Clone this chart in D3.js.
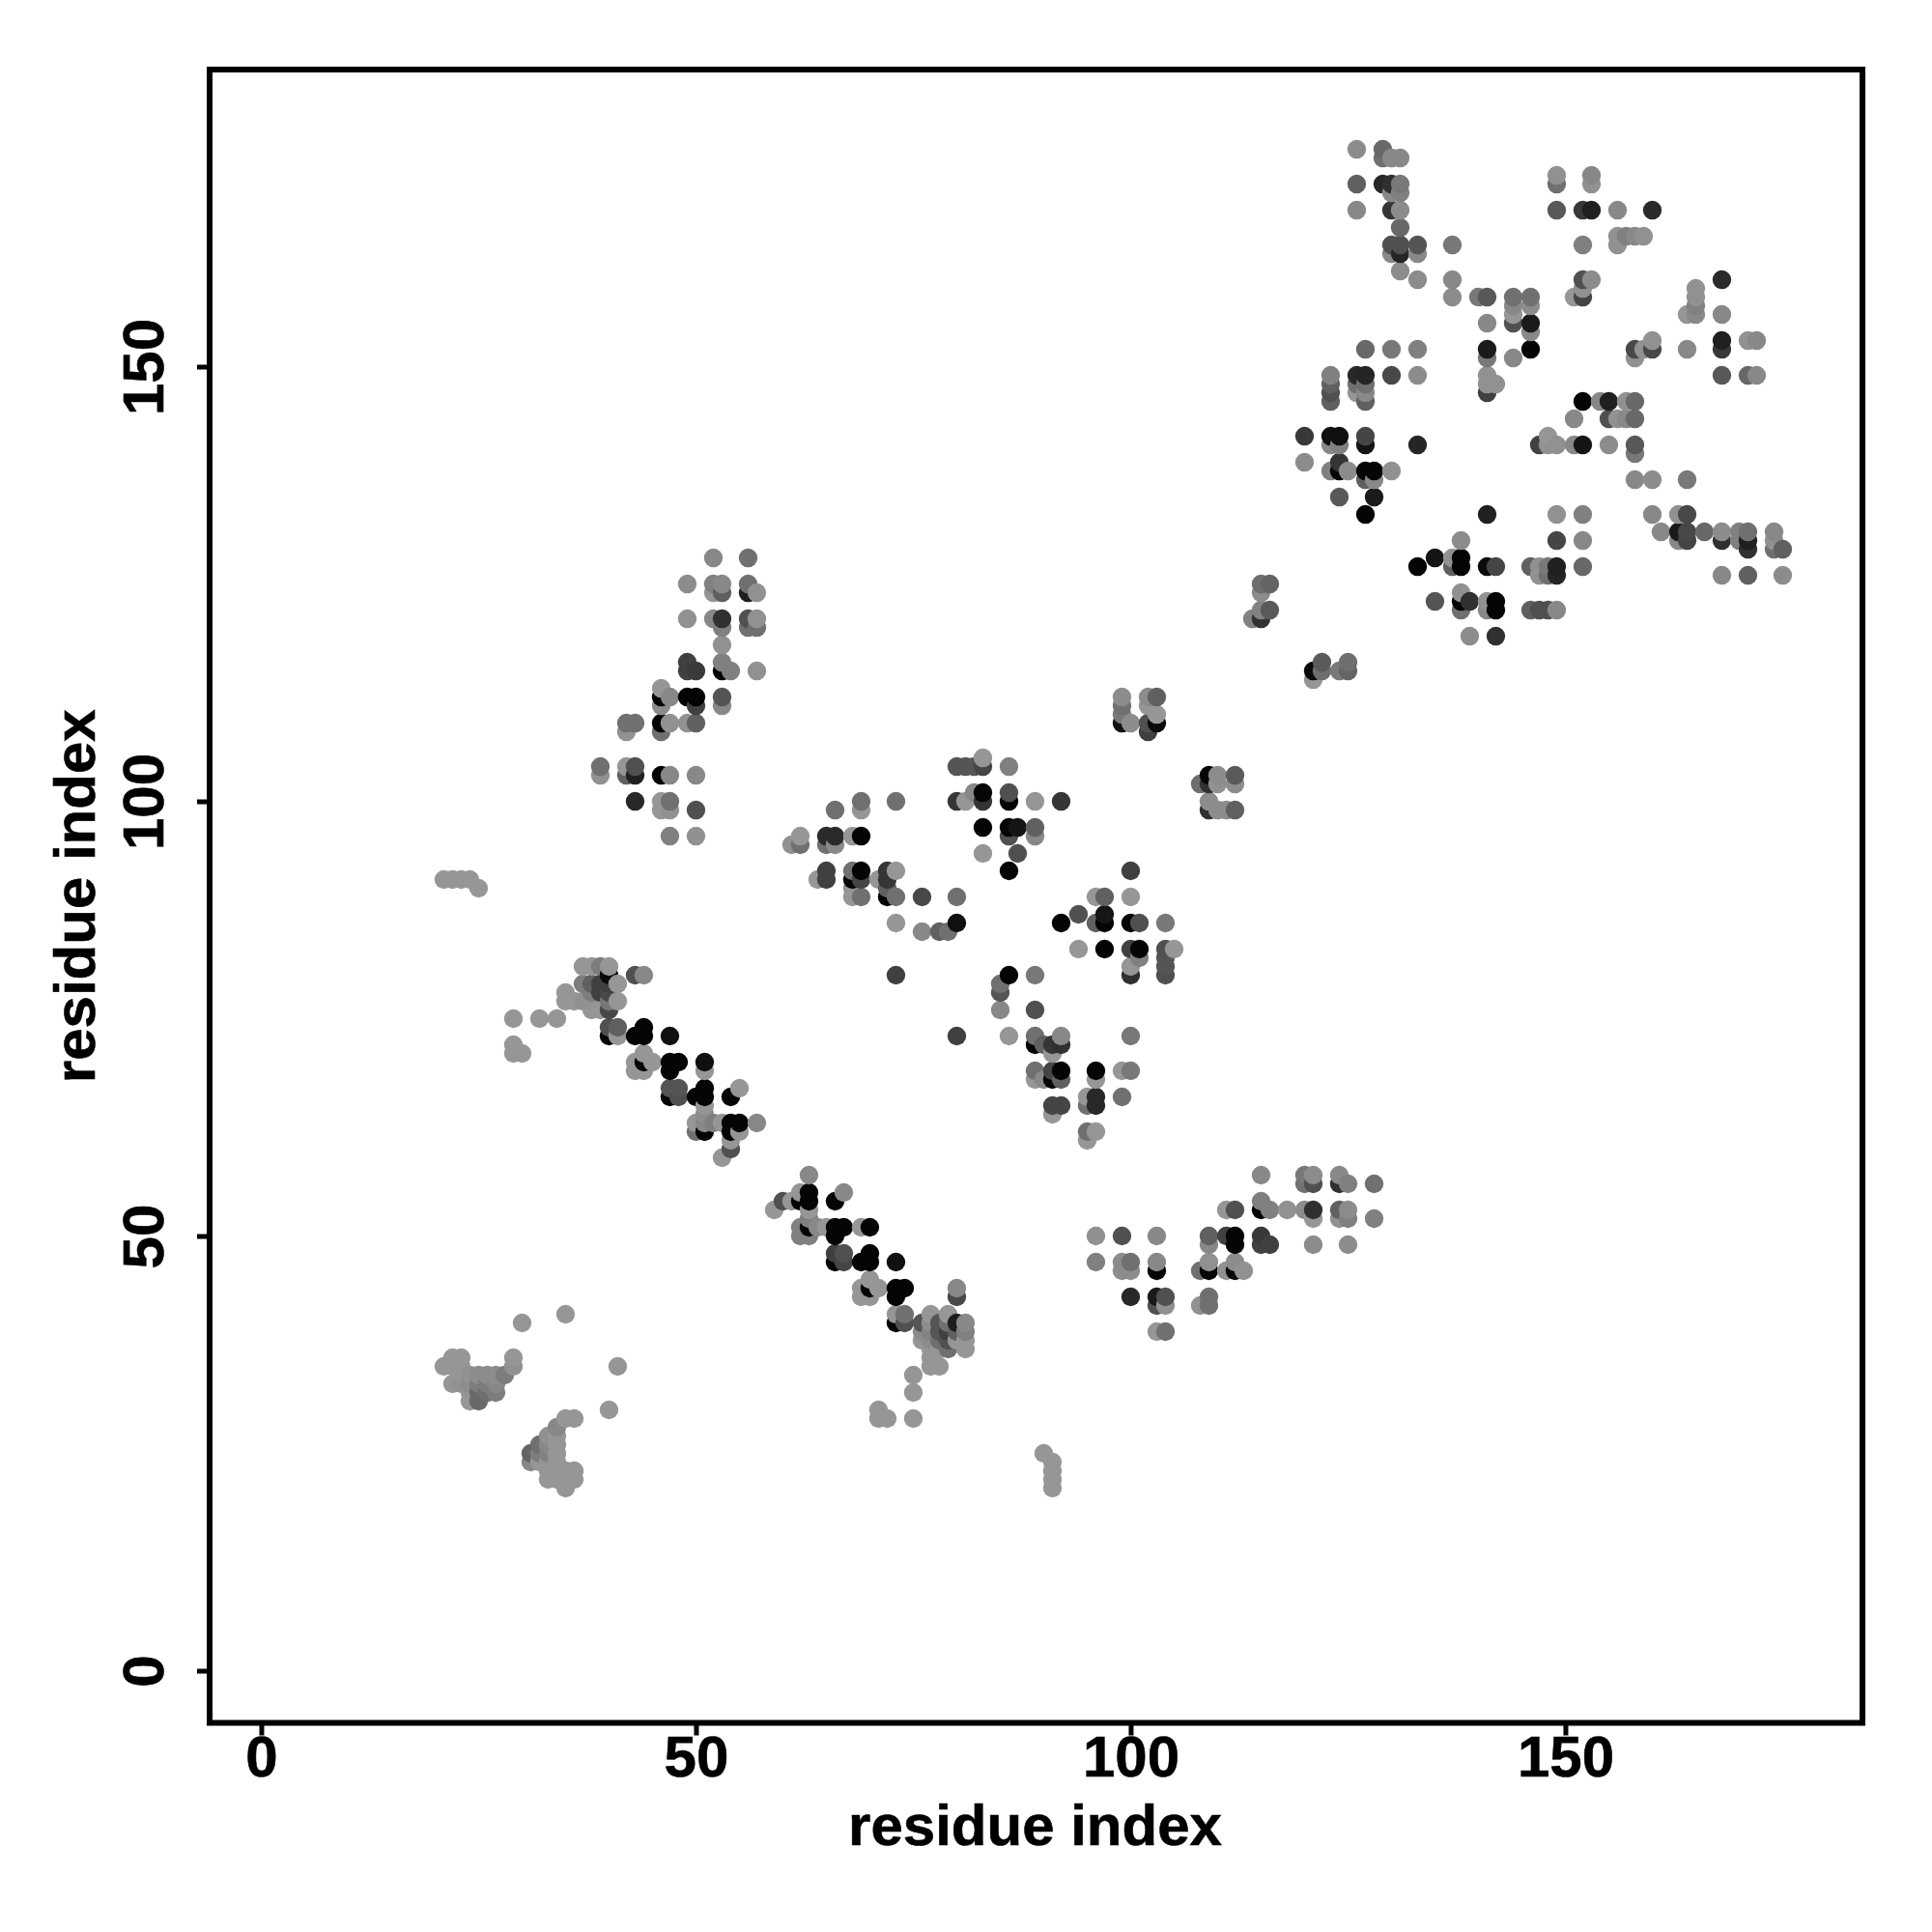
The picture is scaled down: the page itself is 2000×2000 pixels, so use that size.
<!DOCTYPE html>
<html><head><meta charset="utf-8">
<script src="https://cdn.jsdelivr.net/npm/d3@7/dist/d3.min.js"></script>
<style>html,body{margin:0;padding:0;background:#fff}svg{display:block}text{font-family:"Liberation Sans",Arial,sans-serif;font-weight:bold;fill:#000}</style>
</head><body>
<svg id="c" width="2000" height="2000"></svg>
<script>
// Contact pairs: [residue i, residue j, grey level]
const lowerLeftA=[[30,40,150],[35,41,150],[41,35,150],[40,30,150],[21,35,150],[22,36,150],[23,36,150],[29,36,150],[29,35,145],[22,35,150],[23,35,150],[22,33,150],[23,34,150],[24,34,145],[25,34,140],[26,34,140],[27,34,140],[28,34,125],[23,33,145],[24,33,140],[25,33,125],[26,33,125],[27,33,135],[24,32,150],[25,32,105],[26,32,110],[27,32,125],[24,31,150],[25,31,105]];
const lowerLeftB=[[35,29,150],[36,29,150],[34,28,135],[33,27,145],[34,27,150],[32,26,112],[33,26,135],[34,26,150],[31,25,100],[32,25,125],[33,25,130],[34,25,150],[31,24,135],[32,24,150],[33,24,150],[34,24,150],[33,23,150],[34,23,150],[35,23,150],[36,23,150],[33,22,150],[34,22,150],[35,22,150],[36,22,150],[35,21,150],[90,25,150],[91,24,150],[91,23,150],[91,22,150],[91,21,150],[21,91,150],[22,91,150],[23,91,150],[24,91,150],[25,90,150]];
const bandOneA=[[29,75,150],[32,75,150],[34,75,150],[29,72,150],[29,71,150],[30,71,150],[37,81,150],[38,81,150],[39,81,125],[40,81,150],[40,80,10],[43,80,80],[44,80,136],[37,79,125],[38,79,96],[39,79,64],[40,79,64],[41,79,150],[35,78,150],[38,78,125],[39,78,64],[40,78,72],[35,77,150],[36,77,150],[37,77,145],[38,77,145],[40,77,120],[41,77,150],[38,76,150],[39,76,150],[40,76,72],[40,74,80],[41,74,96],[40,73,5],[41,73,150],[44,74,5],[43,73,5],[44,73,5],[47,73,16],[44,71,150],[45,70,150],[43,70,150],[44,70,5],[43,69,150],[44,69,150]];
const bandOneB=[[47,70,5],[48,70,5],[47,69,5],[51,70,16],[51,69,150],[47,67,85],[48,67,85],[47,66,5],[48,66,80],[50,66,5],[51,67,5],[51,66,5],[51,65,150],[51,64,140],[54,66,5],[55,67,150],[50,63,150],[50,62,112],[51,63,136],[51,62,5],[52,63,128],[53,63,150],[54,63,5],[55,63,5],[54,62,5],[55,62,150],[57,63,136],[54,61,150],[54,60,80],[53,59,150]];
const bandTwoA=[[63,57,136],[62,55,150],[63,55,5],[60,54,80],[61,54,150],[62,54,5],[63,54,5],[59,53,150],[66,54,5],[67,55,136],[63,53,150],[63,52,128],[62,51,128],[62,50,128],[63,51,5],[63,50,128],[64,51,136],[65,51,150],[66,51,5],[67,51,5],[66,50,5],[69,51,150],[70,51,5],[66,48,64],[67,48,80],[66,47,5],[67,47,69],[69,47,5],[70,48,5],[70,47,5],[73,47,16],[70,45,150],[71,44,150],[69,44,150],[70,44,5],[69,43,150],[70,43,150],[73,44,5],[74,44,5],[73,43,5],[80,44,136],[80,43,72]];
const bandTwoB=[[73,41,150],[74,41,112],[73,40,5],[74,40,80],[76,40,85],[77,41,150],[79,41,150],[80,40,30],[81,40,136],[77,40,140],[78,40,85],[79,40,112],[76,39,140],[77,39,130],[78,39,85],[79,39,64],[80,39,96],[81,39,128],[76,38,150],[77,38,140],[78,38,112],[79,38,80],[80,38,150],[81,38,150],[79,37,112],[81,37,150],[77,37,150],[78,37,150],[77,36,150],[77,35,150],[78,35,150],[75,34,150],[75,32,150],[75,29,150],[71,30,150],[72,29,150],[71,29,150]];
const armLeft=[[52,128,136],[56,128,112],[49,125,140],[52,125,128],[53,125,136],[52,124,150],[53,124,96],[56,125,112],[56,124,30],[57,124,145],[49,121,145],[52,121,136],[53,121,48],[53,120,128],[56,121,80],[57,121,145],[56,120,112],[57,120,112],[53,118,145],[49,116,64],[49,115,64],[50,115,58],[53,116,128],[53,115,5],[54,115,128],[57,115,145],[46,113,150],[47,112,136],[46,112,5],[46,111,140],[49,112,5],[50,112,5],[50,111,64],[53,112,85],[53,111,136],[42,109,112],[43,109,112],[42,108,145],[46,109,5],[47,109,145],[46,108,112],[49,109,145],[50,109,96],[39,104,112],[39,103,145],[42,104,150],[43,104,80],[42,103,96],[43,103,32],[46,103,5],[47,103,136],[50,103,136],[43,100,40],[46,100,150],[47,100,112],[46,99,150],[47,99,145],[50,99,80],[47,96,128],[50,96,145]];
const midA=[[80,104,85],[81,104,85],[82,104,85],[83,104,69],[83,105,150],[86,104,128],[80,100,53],[81,100,150],[82,101,136],[83,101,5],[83,100,53],[86,101,80],[86,100,5],[89,100,150],[92,100,53],[83,97,5],[86,97,5],[87,97,21],[89,97,96],[86,96,80],[89,96,136],[83,94,150],[87,94,80],[86,92,5],[66,99,112],[69,100,112],[69,99,150],[73,100,112],[61,95,145],[62,96,150],[62,95,112],[65,96,42],[66,96,42],[65,95,112],[66,95,136],[68,96,150],[69,96,5]];
const midB=[[64,91,150],[65,92,64],[65,91,64],[68,92,112],[69,92,5],[68,91,5],[69,91,69],[68,90,150],[68,89,150],[69,89,112],[72,92,53],[73,92,150],[71,91,150],[72,91,53],[72,90,96],[72,89,5],[73,89,112],[76,89,72],[80,89,112],[73,86,150],[76,85,136],[78,85,96],[79,85,112],[80,86,16],[92,86,5],[94,87,80],[94,83,150],[96,89,150],[97,89,96],[100,92,64],[100,89,150],[96,86,96],[97,87,21],[97,86,5],[100,86,5],[101,86,80],[104,86,120],[97,83,5],[100,83,64],[101,83,5],[101,82,128],[100,81,150],[100,80,48],[104,83,80],[105,83,150],[104,82,85],[104,81,85],[104,80,80]];
const midC=[[86,80,5],[89,80,120],[85,79,112],[85,78,85],[85,76,136],[89,76,80],[73,80,64],[80,73,64],[86,73,150],[89,73,112],[89,72,5],[90,72,96],[91,72,53],[92,73,136],[92,72,48],[91,71,150],[100,73,120],[89,69,112],[89,68,150],[90,68,136],[91,69,69],[91,68,5],[92,69,5],[92,68,96],[96,69,5],[96,68,150],[99,69,150],[100,69,120],[95,66,150],[96,66,40],[95,65,112],[96,65,40],[99,66,112],[91,65,69],[92,65,69],[91,64,150],[95,62,112],[96,62,150],[95,61,150]];
const sheetLow=[[115,57,136],[120,57,120],[121,57,140],[120,56,112],[121,56,80],[124,57,136],[125,56,128],[124,56,48],[128,56,112],[115,54,128],[116,53,128],[115,53,5],[118,53,145],[111,53,150],[112,53,80],[120,53,140],[121,53,48],[121,52,150],[124,53,96],[125,53,140],[124,52,145],[125,52,128],[128,52,128],[121,49,140],[125,49,140],[96,50,145],[99,50,80],[103,50,136],[109,50,96],[109,49,136],[111,50,64],[112,50,5],[112,49,5],[115,50,56],[116,49,64],[115,49,64],[96,47,128],[99,47,140],[100,47,112],[99,46,140],[100,46,140],[103,47,136],[103,46,5],[108,46,112],[109,47,145],[109,46,5],[111,46,145],[112,47,140],[112,46,5],[113,46,145],[100,43,40],[103,43,26],[104,43,80],[103,42,80],[104,42,145],[108,42,145],[109,43,112],[109,42,112],[103,39,150],[104,39,112]];
const diagLinks=[[115,125,110],[116,125,100],[115,124,140],[114,121,130],[115,121,50],[115,122,130],[116,122,90],[122,116,90],[125,116,110],[121,115,10],[122,115,110],[124,115,120],[125,115,100],[121,114,150],[99,112,140],[102,112,140],[103,112,96],[99,111,112],[102,111,150],[99,110,120],[103,110,150],[99,109,16],[100,109,140],[102,109,80],[103,109,10],[102,108,64],[108,102,110],[109,103,5],[110,103,140],[112,103,90],[109,102,48],[110,102,145],[112,102,140],[109,100,140],[109,99,48],[110,99,140],[111,99,140],[112,99,96]];
const upperA=[[123,149,128],[123,148,96],[123,147,80],[123,146,96],[126,149,40],[127,149,37],[126,148,112],[127,148,112],[126,147,150],[127,147,136],[127,146,96],[130,149,72],[133,149,140],[141,149,145],[141,148,145],[142,148,145],[141,147,64],[120,142,56],[123,142,16],[124,142,16],[123,141,136],[124,141,128],[127,142,69],[127,141,21],[133,141,37],[120,139,140],[123,138,128],[124,139,53],[124,138,5],[125,138,140],[127,138,5],[128,138,5],[130,138,145],[127,137,96],[128,137,136],[124,135,88],[128,135,26],[127,133,5],[141,133,32],[147,141,64],[148,142,150],[148,141,145],[149,141,145],[151,141,136],[152,141,21],[151,144,136],[152,146,5]];
const upperB=[[126,175,140],[129,175,104],[129,174,112],[130,174,136],[131,174,136],[126,171,96],[129,171,40],[130,171,48],[131,171,120],[130,170,136],[131,170,128],[126,168,136],[130,168,53],[131,168,140],[131,166,104],[130,164,80],[131,164,80],[133,164,85],[130,163,136],[131,163,37],[133,163,136],[137,164,120],[131,161,140],[133,160,140],[137,160,136],[137,158,140],[140,158,120],[141,158,88],[144,158,112],[146,158,112],[144,157,136],[144,156,150],[144,155,80],[146,157,140],[146,155,26],[146,154,136],[141,155,136],[141,152,26],[141,151,120],[144,151,136],[146,152,5],[127,152,104],[130,152,120],[133,152,128]];
const upperC=[[149,172,145],[149,171,112],[153,172,136],[153,171,145],[149,168,88],[152,168,56],[153,168,32],[156,168,136],[160,168,42],[152,164,128],[156,165,145],[156,164,145],[157,165,128],[158,165,136],[159,165,145],[152,160,80],[153,160,140],[152,159,145],[151,158,150],[152,158,69],[165,159,145],[165,158,145],[165,157,128],[164,156,150],[165,156,136],[168,160,42],[168,156,136],[168,153,32],[168,152,56],[171,153,145],[172,153,136],[164,152,136],[158,152,72],[159,152,145],[160,153,145],[160,152,72],[158,151,145],[168,149,88],[171,149,104],[172,149,136],[154,146,136],[155,146,32],[157,146,145],[158,146,104],[155,144,80],[156,144,145],[157,144,136],[158,144,104],[155,141,140],[158,141,88],[158,140,120],[158,137,136],[160,137,140],[164,137,120]];
const upperD=[[149,133,145],[152,133,128],[138,130,140],[149,130,69],[152,130,136],[160,133,136],[163,133,145],[164,133,72],[161,131,136],[163,131,26],[164,131,72],[163,130,136],[164,130,69],[166,131,104],[168,131,140],[168,130,48],[170,131,128],[171,131,112],[170,130,128],[171,130,32],[171,129,48],[174,131,136],[174,130,144],[174,129,112],[175,129,96],[168,126,136],[171,126,96],[175,126,140],[133,127,5],[135,128,21],[137,128,145],[138,128,5],[137,127,96],[138,127,5],[141,127,10],[142,127,69],[146,127,96],[147,127,145],[148,127,120],[149,127,32],[147,126,145],[148,126,112],[149,126,37],[152,127,104],[135,123,85],[138,124,145],[138,123,5],[139,123,48],[138,122,112],[141,123,145],[142,123,5],[141,122,136],[142,122,5],[146,122,96],[147,122,80],[148,122,80],[149,122,136],[139,119,140],[142,119,48]];
const tickValues=[0,50,100,150];
const axisTitle="residue index";

const contacts=[].concat(lowerLeftA,lowerLeftB,bandOneA,bandOneB,bandTwoA,bandTwoB,armLeft,midA,midB,midC,sheetLow,diagLinks,upperA,upperB,upperC,upperD)
  .map(d=>({i:d[0],j:d[1],g:d[2]}))
  .sort((a,b)=>d3.ascending(a.i,b.i)||d3.ascending(a.j,b.j));

const L=217,R=1928,T=72,B=1783.5;
const x=d3.scaleLinear().domain([-5.94,184.17]).range([L,R]);
const y=d3.scaleLinear().domain([-6,184.17]).range([B,T]);
const grey=d3.scaleLinear().domain([0,255]).range(["#000","#fff"]);
const svg=d3.select("#c");

svg.append("g").selectAll("circle").data(contacts).join("circle")
  .attr("cx",d=>x(d.i)).attr("cy",d=>y(d.j)).attr("r",9.7).attr("fill",d=>grey(d.g));

const ax=svg.append("g").attr("transform",`translate(0,${B})`).call(d3.axisBottom(x).tickValues(tickValues).tickSize(13).tickPadding(10));
const ay=svg.append("g").attr("transform",`translate(${L},0)`).call(d3.axisLeft(y).tickValues(tickValues).tickSize(13).tickPadding(10));
[ax,ay].forEach(g=>{
  g.select(".domain").remove();
  g.selectAll("line").attr("stroke","#000").attr("stroke-width",5);
  g.selectAll("text").style("font-family",'"Liberation Sans",Arial,sans-serif').style("font-weight","bold").style("font-size","60px").style("stroke","#000").style("stroke-width","0.6px").attr("fill","#000");
});
ax.selectAll("text").attr("y",null).attr("dy",null).attr("transform","translate(0,55)").attr("text-anchor","middle");
ay.selectAll("text").attr("x",null).attr("dy",null).attr("text-anchor","middle").attr("transform","translate(-48,0) rotate(-90)");

svg.append("rect").attr("x",L).attr("y",T).attr("width",R-L).attr("height",B-T).attr("fill","none").attr("stroke","#000").attr("stroke-width",6);
svg.append("text").attr("x",(L+R)/2-1).attr("y",1910).attr("text-anchor","middle").style("font-size","60px").style("stroke","#000").style("stroke-width","0.6px").text(axisTitle);
svg.append("text").attr("transform",`translate(98,${(T+B)/2}) rotate(-90)`).attr("text-anchor","middle").style("font-size","60px").style("stroke","#000").style("stroke-width","0.6px").text(axisTitle);
</script>
</body></html>
